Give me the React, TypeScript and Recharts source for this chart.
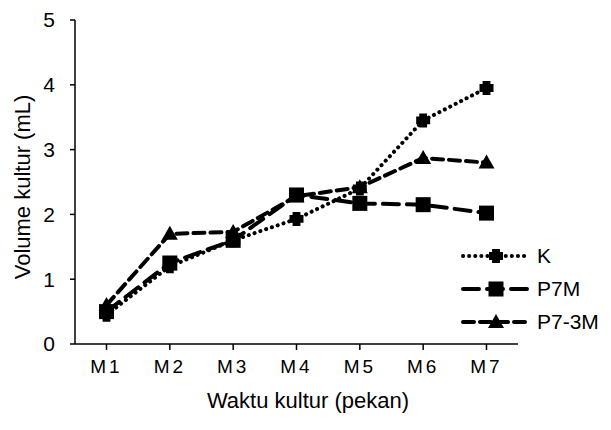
import React from 'react';
import { LineChart, Line, XAxis, YAxis, Label } from 'recharts';

const categories = ['M1', 'M2', 'M3', 'M4', 'M5', 'M6', 'M7'];
const kValues = [0.45, 1.2, 1.6, 1.93, 2.4, 3.45, 3.95];
const p7mValues = [0.5, 1.25, 1.6, 2.3, 2.17, 2.15, 2.02];
const p73mValues = [0.6, 1.7, 1.73, 2.28, 2.42, 2.87, 2.8];
const yTicks = [0, 1, 2, 3, 4, 5];

const data = categories.map((c, i) => ({
  name: c,
  K: kValues[i],
  P7M: p7mValues[i],
  P73M: p73mValues[i],
}));

const FONT = 'Liberation Sans, Arial, sans-serif';

const plusPath = (cx: number, cy: number, s: number) => {
  const a = s / 2;
  const w = s * 0.28;
  return `M${cx - w},${cy - a} L${cx + w},${cy - a} L${cx + w},${cy - w} L${cx + a},${cy - w} L${cx + a},${cy + w} L${cx + w},${cy + w} L${cx + w},${cy + a} L${cx - w},${cy + a} L${cx - w},${cy + w} L${cx - a},${cy + w} L${cx - a},${cy - w} L${cx - w},${cy - w} Z`;
};

const KMarker = (props: any) => {
  const { cx, cy } = props;
  if (cx == null || cy == null) return null;
  return (
    <g>
      <path d={plusPath(cx, cy, 14)} fill="#000" />
      <polygon points={`${cx},${cy - 6} ${cx + 6},${cy} ${cx},${cy + 6} ${cx - 6},${cy}`} fill="#000" />
    </g>
  );
};

const SquareMarker = (props: any) => {
  const { cx, cy } = props;
  if (cx == null || cy == null) return null;
  return <rect x={cx - 7.5} y={cy - 7.5} width={15} height={15} fill="#000" />;
};

const TriMarker = (props: any) => {
  const { cx, cy } = props;
  if (cx == null || cy == null) return null;
  return <polygon points={`${cx},${cy - 8} ${cx + 8},${cy + 6} ${cx - 8},${cy + 6}`} fill="#000" />;
};

const series = [
  { key: 'K', label: 'K', dash: '0.1 6', cap: 'round', Marker: KMarker },
  { key: 'P7M', label: 'P7M', dash: '16 8', cap: 'round', Marker: SquareMarker },
  { key: 'P73M', label: 'P7-3M', dash: '11 6', cap: 'round', Marker: TriMarker },
];

const LegendBox = () => (
  <svg width={160} height={100} style={{ position: 'absolute', left: 456, top: 246, overflow: 'visible' }}>
    {series.map((s, i) => {
      const y = 10 + i * 33;
      const M = s.Marker;
      return (
        <g key={s.key}>
          <line x1={7} y1={y} x2={72} y2={y} stroke="#000" strokeWidth={4} strokeDasharray={s.dash} strokeLinecap={s.cap as any} />
          <M cx={40} cy={y} />
          <text x={81} y={y} dy="0.35em" fontSize={21} fontFamily={FONT} fill="#000">{s.label}</text>
        </g>
      );
    })}
  </svg>
);

export default function App() {
  return (
    <div style={{ position: 'absolute', left: 0, top: 0, width: 611, height: 430, background: '#fff' }}>
      <LineChart width={611} height={430} data={data} margin={{ top: 20, right: 93, left: 0, bottom: 0 }}>
        <XAxis
          dataKey="name"
          height={86}
          stroke="#000"
          strokeWidth={1.5}
          tickSize={6}
          tickMargin={10}
          padding={{ left: 31.5, right: 31.5 }}
          tick={{ fill: '#000', fontSize: 19, fontFamily: FONT, letterSpacing: 3 }}
          interval={0}
        >
          <Label
            content={() => (
              <text x={308} y={400} dy="0.35em" textAnchor="middle" fontSize={22} fontFamily={FONT} fill="#000">
                Waktu kultur (pekan)
              </text>
            )}
          />
        </XAxis>
        <YAxis
          domain={[0, 5]}
          ticks={yTicks}
          width={75}
          stroke="#000"
          strokeWidth={1.5}
          tickSize={5}
          tickMargin={15}
          tick={{ fill: '#000', fontSize: 21, fontFamily: FONT }}
          interval={0}
        >
          <Label
            content={() => (
              <text
                x={22}
                y={187}
                dy="0.35em"
                textAnchor="middle"
                fontSize={22}
                fontFamily={FONT}
                fill="#000"
                transform="rotate(-90 22 187)"
              >
                Volume kultur (mL)
              </text>
            )}
          />
        </YAxis>
        {series.map((s) => (
          <Line
            key={s.key}
            dataKey={s.key}
            stroke="#000"
            strokeWidth={4}
            strokeDasharray={s.dash}
            strokeLinecap={s.cap as any}
            dot={<s.Marker />}
            activeDot={false}
            isAnimationActive={false}
          />
        ))}
      </LineChart>
      <LegendBox />
    </div>
  );
}
